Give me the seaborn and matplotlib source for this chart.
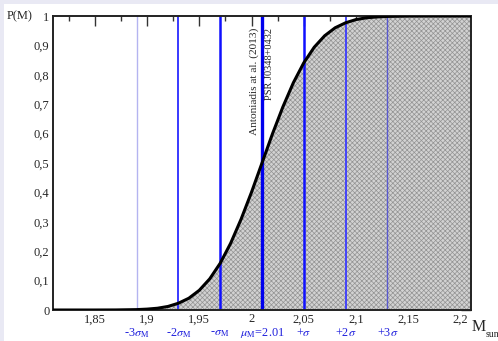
import numpy as np
import pandas as pd
import matplotlib
matplotlib.use("Agg")
import matplotlib.pyplot as plt
import seaborn as sns
from matplotlib.ticker import MultipleLocator, FuncFormatter
from matplotlib.patches import Rectangle

# ---- data ----
mass = [1.81, 1.83, 1.85, 1.87, 1.89, 1.90, 1.91, 1.92, 1.93, 1.94, 1.95, 1.96,
        1.97, 1.98, 1.99, 2.00, 2.01, 2.02, 2.03, 2.04, 2.05, 2.06, 2.07, 2.08,
        2.09, 2.10, 2.11, 2.12, 2.13, 2.15, 2.17, 2.19, 2.21]
prob = [0.0, 0.0, 0.0, 0.0002, 0.0013, 0.003, 0.006, 0.012, 0.023, 0.040, 0.067, 0.106,
        0.159, 0.227, 0.309, 0.401, 0.500, 0.599, 0.691, 0.773, 0.841, 0.894, 0.933, 0.960,
        0.977, 0.988, 0.994, 0.997, 0.9987, 0.9999, 1.0, 1.0, 1.0]
sigma_pos = [1.89, 1.93, 1.97, 2.01, 2.05, 2.09, 2.13]
sigma_labels = [r"-3$\sigma_{\mathrm{M}}$", r"-2$\sigma_{\mathrm{M}}$", r"-$\sigma_{\mathrm{M}}$",
                r"$\mu_{\mathrm{M}}$=2.01", r"+$\sigma$", r"+2$\sigma$", r"+3$\sigma$"]
sigma_colors = ["#b4b4f0", "#2a2aff", "#1010ff", "#0000ee", "#1010ff", "#3a3aff", "#5a5ad0"]
sigma_widths = [1.0, 1.3, 1.8, 2.4, 1.8, 1.3, 1.0]

sns.set_theme(style="white")
plt.rcParams["font.family"] = ["Liberation Serif", "DejaVu Serif"]
plt.rcParams["mathtext.fontset"] = "stix"
plt.rcParams["hatch.linewidth"] = 0.5

df = pd.DataFrame({"M": mass, "P": prob})

fig = plt.figure(figsize=(4.98, 3.41), dpi=100)
fig.patch.set_facecolor("white")
fig.patches.append(Rectangle((0, 0), 1, 1, transform=fig.transFigure, facecolor="#e9e9f4",
                             edgecolor="none", zorder=-10))
fig.patches.append(Rectangle((0.009, 0), 1, 0.988, transform=fig.transFigure, facecolor="white",
                             edgecolor="none", zorder=-9))
ax = fig.add_axes([0.1064, 0.0909, 0.8394, 0.8621])
ax.set_facecolor("white")

ax.fill_between(df["M"], 0, df["P"], facecolor="#d2d2d2", hatch="xxxxxxx",
                edgecolor="#939393", linewidth=0, zorder=1)

for xp, c, w in zip(sigma_pos, sigma_colors, sigma_widths):
    ax.axvline(xp, color=c, lw=w, zorder=2)

sns.lineplot(data=df, x="M", y="P", color="black", lw=2.2, ax=ax, zorder=3)

ax.set_xlim(1.81, 2.21)
ax.set_ylim(0, 1)
ax.xaxis.set_major_locator(MultipleLocator(0.05))
ax.xaxis.set_minor_locator(MultipleLocator(0.025))
ax.yaxis.set_major_locator(MultipleLocator(0.1))
ax.yaxis.set_minor_locator(MultipleLocator(0.05))

def fmt(v, pos):
    s = f"{v:.2f}".rstrip("0").rstrip(".")
    return s.replace(".", ",")

ax.xaxis.set_major_formatter(FuncFormatter(fmt))
ax.yaxis.set_major_formatter(FuncFormatter(fmt))
ax.tick_params(which="both", direction="in", top=True, right=True, color="#333333")
ax.tick_params(which="major", length=7, width=1, labelsize=9, pad=2.5)
ax.tick_params(which="minor", length=3.5, width=1)
ax.set_xlabel("")
ax.set_ylabel("")
for s in ax.spines.values():
    s.set_color("#222222")
    s.set_linewidth(1.4)

tr = ax.get_xaxis_transform()
for xp, lab in zip(sigma_pos, sigma_labels):
    ax.text(xp, -0.078, lab, transform=tr, ha="center", va="center", color="#2020dd", fontsize=8.8)

ax.text(-0.048, 1.0, "P(M)", transform=ax.transAxes, ha="right", va="center", fontsize=9)
ax.text(1.002, -0.058, "M", transform=ax.transAxes, ha="left", va="center", fontsize=11.5)
ax.text(1.034, -0.083, "sun", transform=ax.transAxes, ha="left", va="center", fontsize=7)

ax.text(2.0025, 0.96, "Antoniadis at al. (2013)", rotation=90, ha="center", va="top", fontsize=8.2)
ax.text(2.0172, 0.96, "PSR J0348+0432", rotation=90, ha="center", va="top", fontsize=7.5)

fig.savefig("out.png", dpi=100)
